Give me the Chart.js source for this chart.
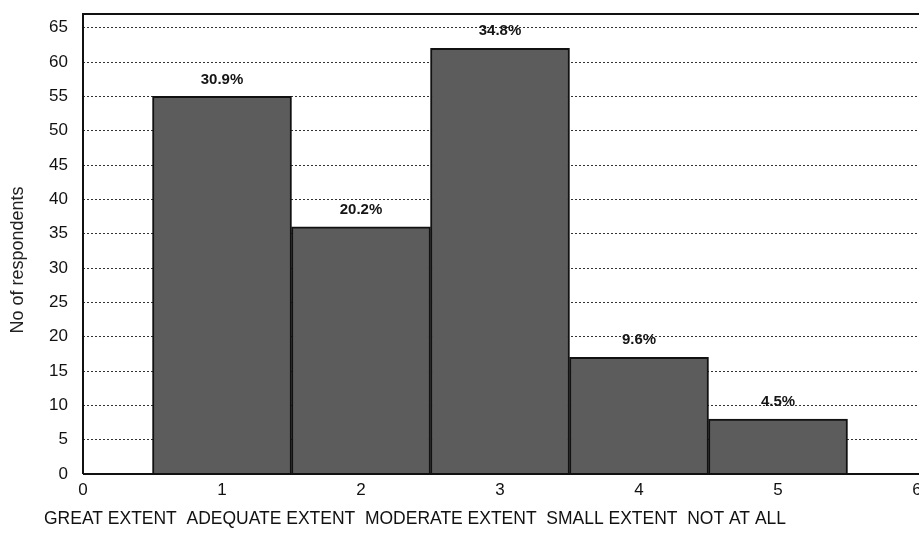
<!DOCTYPE html>
<html>
<head>
<meta charset="utf-8">
<script src="https://cdn.jsdelivr.net/npm/chart.js@4.4.1/dist/chart.umd.min.js"></script>
<style>
html,body{margin:0;padding:0;background:#fff;}
#wrap{width:919px;height:542px;position:relative;}
</style>
</head>
<body>
<div id="wrap"><canvas id="c" width="919" height="542"></canvas></div>
<script>
const categories = ['GREAT EXTENT', 'ADEQUATE EXTENT', 'MODERATE EXTENT', 'SMALL EXTENT', 'NOT AT ALL'];
const positions = [1, 2, 3, 4, 5];
const respondents = [55, 36, 62, 17, 8];
const percentLabels = ['30.9%', '20.2%', '34.8%', '9.6%', '4.5%'];
const yTicks = [0, 5, 10, 15, 20, 25, 30, 35, 40, 45, 50, 55, 60, 65];
const xTicks = [0, 1, 2, 3, 4, 5, 6];
const yTitle = 'No of respondents';

const FONT = "'Liberation Sans', Arial, sans-serif";

const decor = {
  id: 'decor',
  afterDatasetsDraw(chart) {
    const ctx = chart.ctx;
    const a = chart.chartArea;
    ctx.save();
    // frame
    ctx.strokeStyle = '#111';
    ctx.lineWidth = 2;
    ctx.beginPath();
    ctx.moveTo(a.left, a.bottom);
    ctx.lineTo(a.left, a.top);
    ctx.lineTo(a.right + 2, a.top);
    ctx.moveTo(a.left, a.bottom);
    ctx.lineTo(a.right + 2, a.bottom);
    ctx.stroke();
    // value labels
    const meta = chart.getDatasetMeta(0);
    ctx.fillStyle = '#151515';
    ctx.font = 'bold 15px ' + FONT;
    ctx.textAlign = 'center';
    ctx.textBaseline = 'middle';
    meta.data.forEach((bar, i) => {
      ctx.fillText(percentLabels[i], bar.x, bar.y - 17);
    });
    // y title
    ctx.font = '18px ' + FONT;
    ctx.fillStyle = '#222';
    ctx.translate(18, 260);
    ctx.rotate(-Math.PI / 2);
    ctx.fillText(yTitle, 0, 0, 156);
    ctx.restore();
    // category row
    ctx.save();
    ctx.font = '18px ' + FONT;
    ctx.fillStyle = '#111';
    ctx.textAlign = 'left';
    ctx.textBaseline = 'middle';
    ctx.fillText(categories.join('  '), 44, 519, 742);
    ctx.restore();
  }
};

new Chart(document.getElementById('c'), {
  type: 'bar',
  data: {
    datasets: [{
      data: positions.map((p, i) => ({ x: p, y: respondents[i] })),
      backgroundColor: '#5c5c5c',
      borderColor: '#111',
      borderWidth: 2,
      barPercentage: 1,
      categoryPercentage: 1
    }]
  },
  options: {
    responsive: false,
    animation: false,
    devicePixelRatio: 1,
    layout: { padding: { top: 14, right: 2, left: 0, bottom: 0 } },
    plugins: { legend: { display: false }, tooltip: { enabled: false } },
    scales: {
      x: {
        type: 'linear',
        min: 0, max: 6,
        offset: false,
        grid: { display: false, drawTicks: false },
        border: { display: false },
        afterBuildTicks(s) { s.ticks = xTicks.map(v => ({ value: v })); },
        afterFit(s) { s.height = 68; s.paddingLeft = 0; s.paddingRight = 0; },
        ticks: {
          padding: 6,
          color: '#111',
          font: { family: FONT, size: 17 },
          maxRotation: 0,
          autoSkip: false
        }
      },
      y: {
        min: 0, max: 67,
        afterBuildTicks(s) { s.ticks = yTicks.map(v => ({ value: v })); },
        afterFit(s) { s.width = 83; s.paddingTop = 0; s.paddingBottom = 0; },
        border: { display: false, dash: [2, 2] },
        grid: {
          drawTicks: false,
          lineWidth: 1,
          color: (c) => (c.tick && c.tick.value === 0) ? 'rgba(0,0,0,0)' : '#333'
        },
        ticks: {
          padding: 15,
          color: '#111',
          font: { family: FONT, size: 17 }
        }
      }
    }
  },
  plugins: [decor]
});
</script>
</body>
</html>
